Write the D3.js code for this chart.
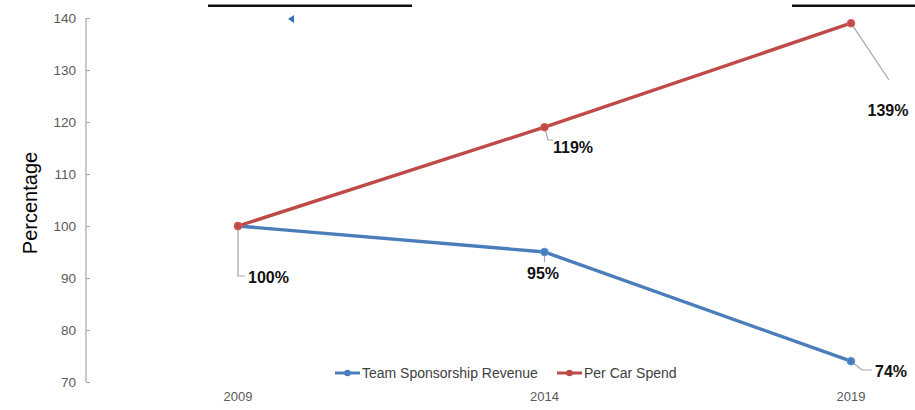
<!DOCTYPE html>
<html>
<head>
<meta charset="utf-8">
<script src="https://cdn.jsdelivr.net/npm/d3@7"></script>
<style>
	body { margin: 0; background: #fff; }
	svg { font-family: "Liberation Sans", Arial, sans-serif; }
</style>
</head>
<body>
<script>
var years = ["2009", "2014", "2019"];
var sponsorship = [100, 95, 74];
var perCar = [100, 119, 139];
var yTicks = [70, 80, 90, 100, 110, 120, 130, 140];
var seriesNames = ["Team Sponsorship Revenue", "Per Car Spend"];
var seriesColors = ["#4a7ebb", "#be4b48"];

var width = 915, height = 410;
var svg = d3.select("body").append("svg").attr("width", width).attr("height", height);

var x = d3.scalePoint().domain(years).range([238, 851]);
var y = d3.scaleLinear().domain([70, 140]).range([382, 18]);

// remnants of the cropped title
svg.append("rect").attr("x", 208).attr("y", 4.5).attr("width", 204).attr("height", 2.5).attr("fill", "#111");
svg.append("rect").attr("x", 792).attr("y", 4.5).attr("width", 123).attr("height", 2.5).attr("fill", "#111");
svg.append("path").attr("d", "M288,19 L294,15 L294,23 Z").attr("fill", "#3b6fb6");

// y axis
var yAxis = svg.append("g").attr("transform", "translate(86,0)")
	.call(d3.axisRight(y).tickValues(yTicks).tickSize(4).tickFormat(""));
yAxis.select(".domain").attr("stroke", "#a6a6a6").attr("stroke-width", 1.2).attr("d", "M0," + y(140) + "V" + y(70));
yAxis.selectAll(".tick line").attr("stroke", "#a6a6a6");
svg.selectAll(".ylab").data(yTicks).enter().append("text").attr("class", "ylab")
	.attr("x", 76).attr("y", function(d){ return y(d); }).attr("dy", "0.35em")
	.attr("text-anchor", "end").attr("font-size", 13.5).attr("fill", "#595959")
	.text(function(d){ return d; });

svg.append("text").attr("transform", "translate(30,203) rotate(-90)")
	.attr("text-anchor", "middle").attr("dy", "0.35em").attr("font-size", 20).attr("fill", "#000")
	.text("Percentage");

// x labels (no axis line)
svg.selectAll(".xlab").data(years).enter().append("text").attr("class", "xlab")
	.attr("x", function(d){ return x(d); }).attr("y", 401)
	.attr("text-anchor", "middle").attr("font-size", 13).attr("fill", "#595959")
	.text(function(d){ return d; });

// leader lines for labels
var leaders = [
	[[x("2009"), y(100)], [x("2009"), 276], [245, 276]],
	[[x("2014"), y(95)], [x("2014"), 262]],
	[[x("2014"), y(119)], [548, 140], [553, 140]],
	[[x("2019"), y(139)], [889, 80]],
	[[x("2019"), y(74)], [862, 370], [872, 370]]
];
svg.selectAll(".leader").data(leaders).enter().append("path").attr("class", "leader")
	.attr("d", d3.line()).attr("fill", "none").attr("stroke", "#a6a6a6").attr("stroke-width", 1.2);

var series = [sponsorship, perCar];
var line = d3.line().x(function(d, i){ return x(years[i]); }).y(function(d){ return y(d); });
series.forEach(function(s, k){
	svg.append("path").datum(s).attr("d", line).attr("fill", "none")
		.attr("stroke", seriesColors[k]).attr("stroke-width", 3.4);
	svg.selectAll(".m" + k).data(s).enter().append("circle").attr("class", "m" + k)
		.attr("cx", function(d, i){ return x(years[i]); }).attr("cy", function(d){ return y(d); })
		.attr("r", 3.8).attr("fill", seriesColors[k]).attr("stroke", d3.color(seriesColors[k]).brighter(0.5)).attr("stroke-width", 1);
});

// data labels
var labels = [
	{t: perCar[0] + "%", x: 248, y: 277, a: "start"},
	{t: sponsorship[1] + "%", x: 543, y: 273, a: "middle"},
	{t: perCar[1] + "%", x: 553, y: 147, a: "start"},
	{t: perCar[2] + "%", x: 888, y: 110, a: "middle"},
	{t: sponsorship[2] + "%", x: 875, y: 371, a: "start"}
];
svg.selectAll(".dlab").data(labels).enter().append("text").attr("class", "dlab")
	.attr("x", function(d){ return d.x; }).attr("y", function(d){ return d.y; }).attr("dy", "0.35em")
	.attr("text-anchor", function(d){ return d.a; })
	.attr("font-size", 16).attr("font-weight", "bold").attr("fill", "#111")
	.text(function(d){ return d.t; });

// legend
var legX = [335, 557];
seriesNames.forEach(function(n, k){
	var g = svg.append("g").attr("transform", "translate(" + legX[k] + ",373)");
	g.append("line").attr("x1", 0).attr("x2", 25).attr("stroke", seriesColors[k]).attr("stroke-width", 3);
	g.append("circle").attr("cx", 12.5).attr("r", 3.3).attr("fill", seriesColors[k]);
	g.append("text").attr("x", 27).attr("dy", "0.35em").attr("font-size", 14).attr("fill", "#404040").text(n);
});
</script>
</body>
</html>
